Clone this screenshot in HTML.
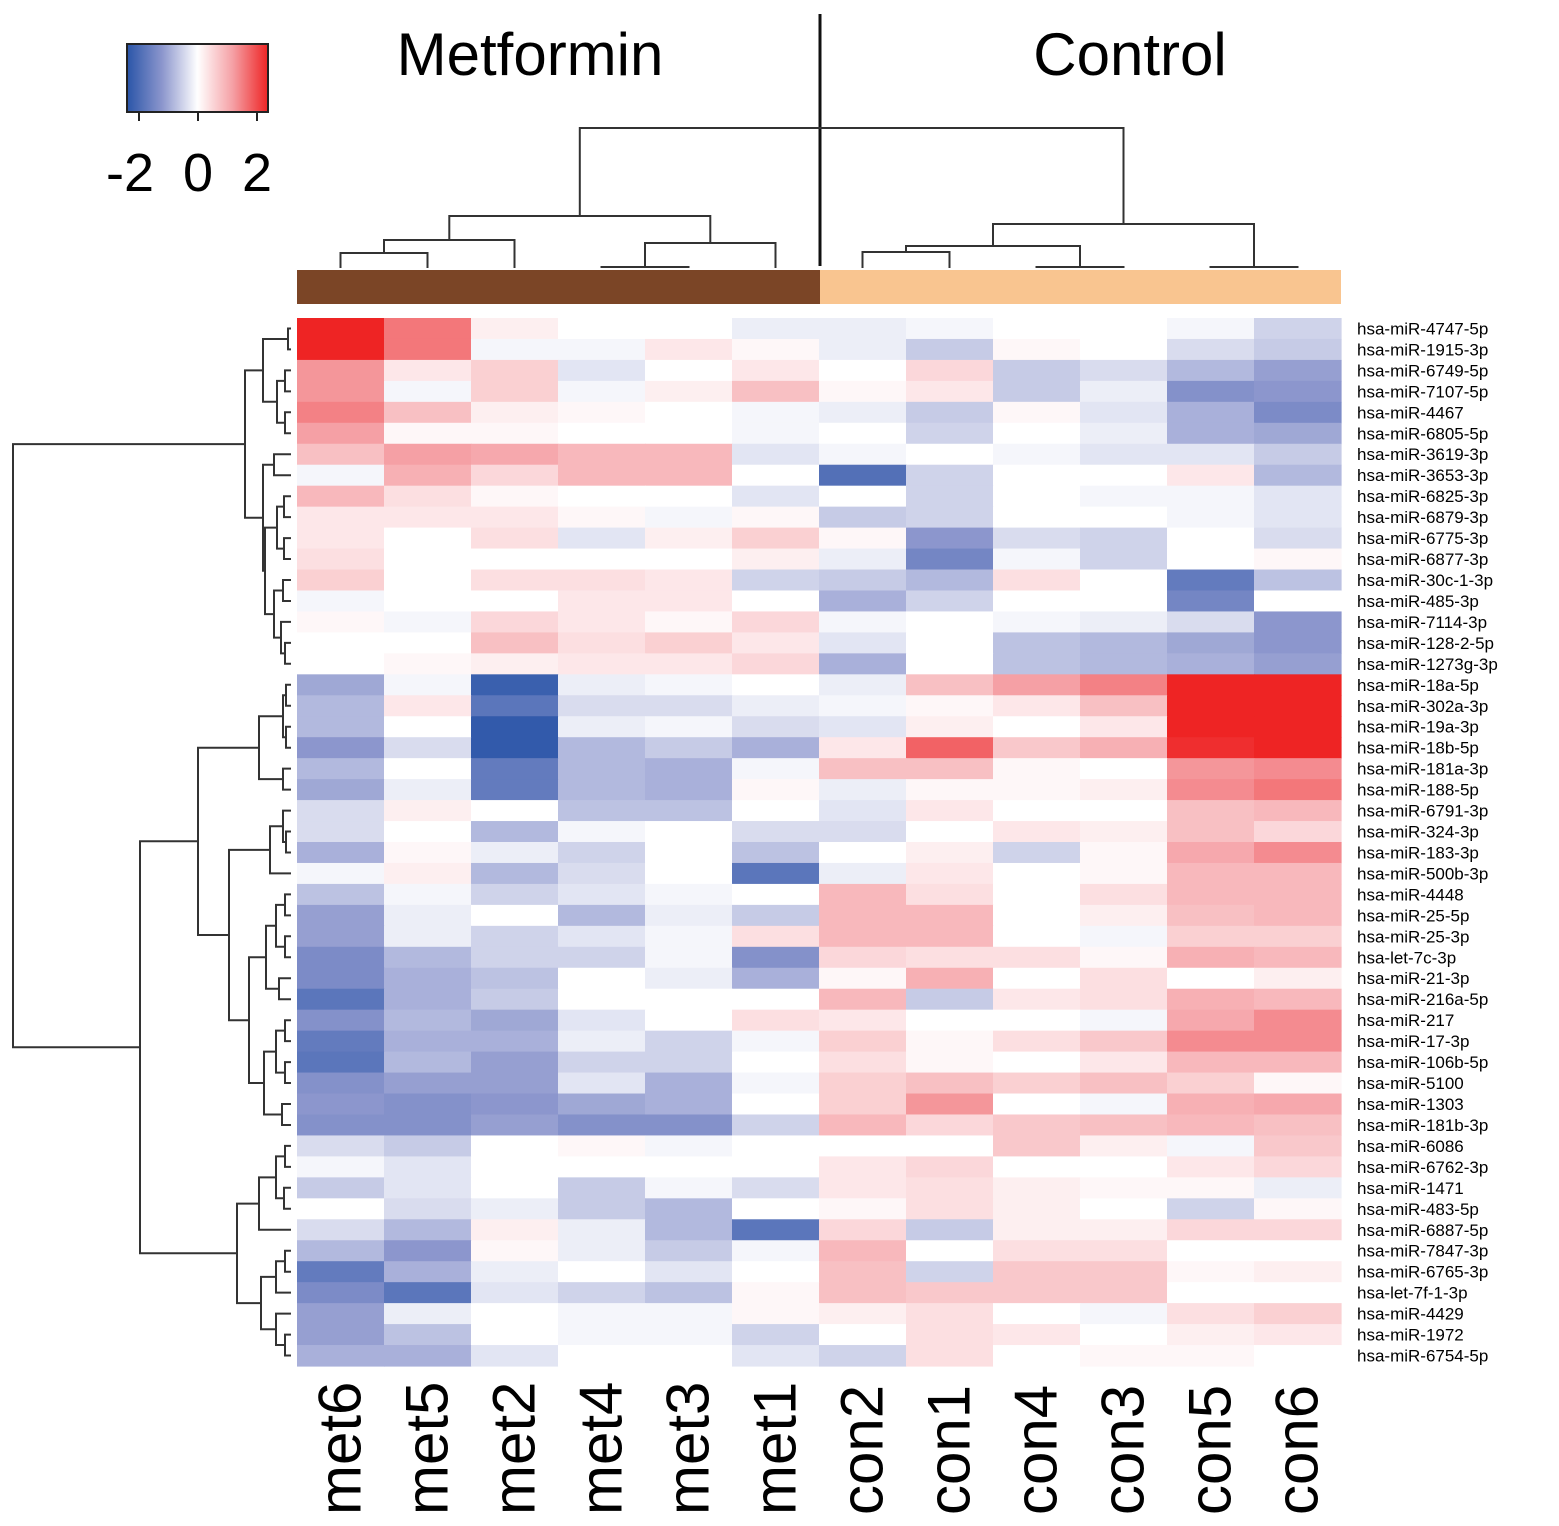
<!DOCTYPE html>
<html><head><meta charset="utf-8"><style>
body{margin:0;background:#fff;}
svg{display:block;font-family:"Liberation Sans",Arial,sans-serif;}
</style></head><body>
<svg id="chart" width="1559" height="1526" viewBox="0 0 1559 1526" xmlns="http://www.w3.org/2000/svg">
<rect width="1559" height="1526" fill="#fff"/>
<g>
<defs><linearGradient id="kg" x1="0" x2="1" y1="0" y2="0">
<stop offset="0" stop-color="#2a55a8"/><stop offset="0.25" stop-color="#8c96cd"/><stop offset="0.5" stop-color="#ffffff"/><stop offset="0.75" stop-color="#f5a0a5"/><stop offset="1" stop-color="#ee2424"/></linearGradient></defs>
<rect x="127" y="44" width="141" height="68" fill="url(#kg)" stroke="#222" stroke-width="2"/>
<path d="M139 112V121M198 112V121M257 112V121" stroke="#222" stroke-width="2"/>
<text x="130" y="191" font-size="54" text-anchor="middle">-2</text>
<text x="198" y="191" font-size="54" text-anchor="middle">0</text>
<text x="257" y="191" font-size="54" text-anchor="middle">2</text>
</g>
<text x="530" y="75" font-size="60" text-anchor="middle">Metformin</text>
<text x="1130" y="75" font-size="60" text-anchor="middle">Control</text>
<line x1="820" y1="14" x2="820" y2="266" stroke="#111" stroke-width="3"/>
<rect x="297" y="270" width="523" height="34" fill="#7b4526"/>
<rect x="820" y="270" width="521" height="34" fill="#f9c590"/>
<g id="cells"></g><g id="dendro"></g><g id="labels"></g>
</svg>
<script>
const samples = ["met6","met5","met2","met4","met3","met1","con2","con1","con4","con3","con5","con6"];
const genes = ["hsa-miR-4747-5p","hsa-miR-1915-3p","hsa-miR-6749-5p","hsa-miR-7107-5p","hsa-miR-4467","hsa-miR-6805-5p","hsa-miR-3619-3p","hsa-miR-3653-3p","hsa-miR-6825-3p","hsa-miR-6879-3p","hsa-miR-6775-3p","hsa-miR-6877-3p","hsa-miR-30c-1-3p","hsa-miR-485-3p","hsa-miR-7114-3p","hsa-miR-128-2-5p","hsa-miR-1273g-3p","hsa-miR-18a-5p","hsa-miR-302a-3p","hsa-miR-19a-3p","hsa-miR-18b-5p","hsa-miR-181a-3p","hsa-miR-188-5p","hsa-miR-6791-3p","hsa-miR-324-3p","hsa-miR-183-3p","hsa-miR-500b-3p","hsa-miR-4448","hsa-miR-25-5p","hsa-miR-25-3p","hsa-let-7c-3p","hsa-miR-21-3p","hsa-miR-216a-5p","hsa-miR-217","hsa-miR-17-3p","hsa-miR-106b-5p","hsa-miR-5100","hsa-miR-1303","hsa-miR-181b-3p","hsa-miR-6086","hsa-miR-6762-3p","hsa-miR-1471","hsa-miR-483-5p","hsa-miR-6887-5p","hsa-miR-7847-3p","hsa-miR-6765-3p","hsa-let-7f-1-3p","hsa-miR-4429","hsa-miR-1972","hsa-miR-6754-5p"];
const values = [
[2.4,1.6,0.2,0,0,-0.2,-0.2,-0.1,0,0,-0.1,-0.5],
[2.4,1.6,-0.1,-0.1,0.3,0.1,-0.2,-0.6,0.1,0,-0.4,-0.6],
[1.3,0.3,0.6,-0.3,0,0.3,0,0.5,-0.6,-0.4,-0.8,-1.1],
[1.3,-0.1,0.6,-0.1,0.2,0.8,0.1,0.3,-0.6,-0.2,-1.3,-1.2],
[1.5,0.8,0.2,0.1,0,-0.1,-0.2,-0.6,0.1,-0.3,-0.9,-1.4],
[1.2,0.1,0.1,0,0,-0.1,0,-0.5,0,-0.2,-0.9,-1.0],
[0.8,1.2,1.1,0.9,0.9,-0.3,-0.1,0,-0.1,-0.3,-0.3,-0.6],
[-0.1,1.0,0.5,0.9,0.9,0,-1.9,-0.5,0,0,0.3,-0.8],
[0.9,0.4,0.1,0,0,-0.3,0,-0.5,0,-0.1,-0.1,-0.3],
[0.3,0.3,0.3,0.1,-0.1,0.1,-0.6,-0.5,0,0,-0.1,-0.3],
[0.3,0,0.4,-0.3,0.2,0.6,0.1,-1.2,-0.4,-0.5,0,-0.4],
[0.4,0,0,0,0,0.2,-0.2,-1.5,-0.1,-0.5,0,0.1],
[0.6,0,0.4,0.4,0.3,-0.5,-0.6,-0.8,0.4,0,-1.7,-0.7],
[-0.1,0,0,0.3,0.3,0,-0.9,-0.5,0,0,-1.5,0],
[0.1,-0.1,0.5,0.3,0.1,0.5,-0.1,0,-0.1,-0.2,-0.4,-1.2],
[0,0,0.8,0.4,0.6,0.3,-0.3,0,-0.7,-0.8,-1.0,-1.2],
[0,0.1,0.2,0.3,0.3,0.5,-0.9,0,-0.7,-0.8,-0.9,-1.1],
[-1.0,-0.1,-2.2,-0.2,-0.1,0,-0.2,0.8,1.2,1.5,2.4,2.4],
[-0.8,0.3,-1.8,-0.4,-0.4,-0.2,-0.1,0.1,0.3,0.8,2.4,2.4],
[-0.8,0,-2.3,-0.2,-0.1,-0.4,-0.3,0.2,0,0.3,2.4,2.4],
[-1.2,-0.4,-2.3,-0.8,-0.6,-0.9,0.3,1.8,0.7,1.0,2.3,2.4],
[-0.8,0,-1.7,-0.8,-0.9,-0.1,0.8,0.8,0.1,0,1.3,1.4],
[-1.0,-0.2,-1.7,-0.8,-0.9,0.1,-0.2,0.1,0.1,0.2,1.4,1.6],
[-0.4,0.2,0,-0.7,-0.7,0,-0.3,0.3,0,0,0.8,0.9],
[-0.4,0,-0.8,-0.1,0,-0.4,-0.4,0,0.3,0.2,0.8,0.5],
[-0.9,0.1,-0.2,-0.5,0,-0.7,0,0.2,-0.5,0.1,1.1,1.4],
[-0.1,0.2,-0.8,-0.4,0,-1.8,-0.2,0.3,0,0.1,0.9,0.9],
[-0.7,-0.1,-0.5,-0.3,-0.1,0,0.9,0.4,0,0.4,0.9,0.9],
[-1.1,-0.2,0,-0.8,-0.2,-0.6,0.9,0.9,0,0.2,0.8,0.9],
[-1.1,-0.2,-0.5,-0.3,-0.1,0.4,0.9,0.9,0,-0.1,0.6,0.6],
[-1.4,-0.8,-0.5,-0.5,-0.1,-1.3,0.5,0.4,0.4,0.1,1.0,0.9],
[-1.4,-0.9,-0.7,0,-0.2,-0.9,0.1,1.0,0,0.4,0,0.2],
[-1.8,-0.9,-0.6,0,0,0,0.9,-0.6,0.3,0.4,1.0,0.9],
[-1.3,-0.8,-1.0,-0.3,0,0.4,0.3,0,0,-0.1,1.1,1.4],
[-1.7,-0.9,-0.9,-0.2,-0.5,-0.1,0.6,0.1,0.4,0.7,1.4,1.4],
[-1.8,-0.8,-1.1,-0.5,-0.5,0,0.4,0.1,0,0.3,0.9,0.9],
[-1.3,-1.1,-1.1,-0.3,-0.9,-0.1,0.6,0.8,0.6,0.8,0.6,0.1],
[-1.2,-1.3,-1.2,-1.0,-0.9,0,0.6,1.3,0,-0.1,1.0,1.1],
[-1.3,-1.3,-1.1,-1.3,-1.3,-0.5,0.9,0.5,0.7,0.8,0.9,0.8],
[-0.4,-0.6,0,0.1,-0.1,0,0,0,0.7,0.2,-0.1,0.7],
[-0.1,-0.3,0,0,0,0,0.3,0.5,0,0,0.3,0.5],
[-0.6,-0.3,0,-0.6,-0.1,-0.4,0.3,0.4,0.2,0.1,0.1,-0.2],
[0,-0.4,-0.2,-0.6,-0.8,0,0.1,0.4,0.2,0,-0.5,0.1],
[-0.4,-0.8,0.2,-0.2,-0.8,-1.8,0.5,-0.6,0.2,0.2,0.5,0.5],
[-0.8,-1.2,0.1,-0.2,-0.6,-0.1,0.9,0,0.4,0.4,0,0],
[-1.7,-0.9,-0.2,0,-0.3,0,0.8,-0.5,0.7,0.7,0.1,0.2],
[-1.4,-1.8,-0.3,-0.5,-0.7,0.1,0.8,0.7,0.7,0.7,0,0],
[-1.1,-0.2,0,-0.1,-0.1,0.1,0.2,0.4,0,-0.1,0.4,0.6],
[-1.1,-0.7,0,-0.1,-0.1,-0.5,0,0.4,0.3,0,0.2,0.3],
[-0.9,-0.9,-0.3,0,0,-0.3,-0.5,0.4,0,0.1,0.1,0]
];
const rowTree = [13,
 [245,
  [263,[288,0,1],[277,[285,2,3],[285,4,5]]],
  [263,[274,6,7],[265,[277,[284,8,9],[284,10,11]],[274,[283,12,13],[281,14,[285,15,16]]]]]],
 [140,
  [198,
   [259,[283,[286,17,18],[286,19,20]],[283,21,22]],
   [229,[270,[283,23,[286,24,25]],26],
    [249,[266,[276,[285,27,28],[285,29,30]],[279,31,32]],[264,[276,[285,33,34],[285,35,36]],[282,37,38]]]]],
  [237,[259,[276,[285,39,40],[284,41,42]],43],[261,[276,[285,44,45],46],[276,47,[285,48,49]]]]]];
const colTree = [128,
 [216,[240,[253,0,1],2],[243,[267,3,4],5]],
 [224,[246,[252,6,7],[267,8,9]],[267,10,11]]];

const NS="http://www.w3.org/2000/svg";
const X0=297,X1=1341,Y0=318,Y1=1366;
const cw=(X1-X0)/samples.length, rh=(Y1-Y0)/genes.length;
function xPos(i){return X0+cw*i;}
function yPos(i){return Y0+rh*i;}
function lerp(a,b,t){return a.map((v,k)=>Math.round(v+(b[k]-v)*t));}
function color(v){
  const t=Math.min(1,Math.abs(v)/2.4);
  const W=[255,255,255];
  let c;
  if(v<0){c=t<0.5?lerp(W,[140,150,205],t/0.5):lerp([140,150,205],[42,85,168],(t-0.5)/0.5);}
  else{c=t<0.5?lerp(W,[245,160,165],t/0.5):lerp([245,160,165],[238,36,36],(t-0.5)/0.5);}
  return `rgb(${c[0]},${c[1]},${c[2]})`;
}
function mk(tag,attrs,parent){const e=document.createElementNS(NS,tag);for(const k in attrs)e.setAttribute(k,attrs[k]);parent.appendChild(e);return e;}
const cells=document.getElementById('cells');
values.forEach((row,r)=>row.forEach((v,c)=>{
  const e=mk('rect',{x:xPos(c).toFixed(2),y:yPos(r).toFixed(2),width:(cw+0.6).toFixed(2),height:(rh+0.6).toFixed(2),fill:color(v)},cells);
  
  
}));
const labels=document.getElementById('labels');
genes.forEach((g,r)=>{
  const t=mk('text',{x:1357,y:(yPos(r)+rh/2+6).toFixed(1),'font-size':17},labels);
  t.textContent=g;
  
  
});
samples.forEach((s,c)=>{
  const cx=xPos(c)+cw/2+20;
  const t=mk('text',{x:cx.toFixed(1),y:1515,'font-size':60,transform:`rotate(-90 ${cx.toFixed(1)} 1515)`},labels);
  t.textContent=s;
  
  
});
const dg=document.getElementById('dendro');
let d="";
function rowNode(n){
  if(typeof n==='number') return {x:291,y:yPos(n)+rh/2};
  const a=rowNode(n[1]),b=rowNode(n[2]),x=n[0];
  d+=`M${a.x} ${a.y.toFixed(1)}H${x}V${b.y.toFixed(1)}H${b.x}`;
  return {x:x,y:(a.y+b.y)/2};
}
rowNode(rowTree);
function colNode(n){
  if(typeof n==='number') return {x:xPos(n)+cw/2,y:268};
  const a=colNode(n[1]),b=colNode(n[2]),y=n[0];
  d+=`M${a.x.toFixed(1)} ${a.y}V${y}H${b.x.toFixed(1)}V${b.y}`;
  return {x:(a.x+b.x)/2,y:y};
}
colNode(colTree);
const p=mk('path',{d:d,fill:'none',stroke:'#333','stroke-width':2},dg);


</script>
</body></html>
